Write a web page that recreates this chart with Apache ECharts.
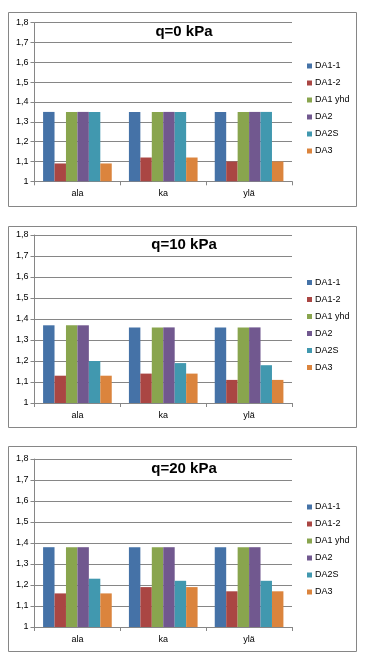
<!DOCTYPE html>
<html>
<head>
<meta charset="utf-8">
<script src="https://cdn.jsdelivr.net/npm/echarts@6/dist/echarts.min.js"></script>
<style>
html,body{margin:0;padding:0;background:#fff;}
#c{width:379px;height:665px;}
</style>
</head>
<body>
<div id="c"></div>
<script>
// ---- data ----
const categories = ['ala', 'ka', 'ylä'];
const seriesNames = ['DA1-1', 'DA1-2', 'DA1 yhd', 'DA2', 'DA2S', 'DA3'];
const chartTitles = ['q=0 kPa', 'q=10 kPa', 'q=20 kPa'];
const yTicks = [1, 1.1, 1.2, 1.3, 1.4, 1.5, 1.6, 1.7, 1.8];

// q = 0 kPa
const q0_DA1_1 = [1.35, 1.35, 1.35];
const q0_DA1_2 = [1.09, 1.12, 1.10];
const q0_DA1_yhd = [1.35, 1.35, 1.35];
const q0_DA2 = [1.35, 1.35, 1.35];
const q0_DA2S = [1.35, 1.35, 1.35];
const q0_DA3 = [1.09, 1.12, 1.10];

// q = 10 kPa
const q10_DA1_1 = [1.37, 1.36, 1.36];
const q10_DA1_2 = [1.13, 1.14, 1.11];
const q10_DA1_yhd = [1.37, 1.36, 1.36];
const q10_DA2 = [1.37, 1.36, 1.36];
const q10_DA2S = [1.20, 1.19, 1.18];
const q10_DA3 = [1.13, 1.14, 1.11];

// q = 20 kPa
const q20_DA1_1 = [1.38, 1.38, 1.38];
const q20_DA1_2 = [1.16, 1.19, 1.17];
const q20_DA1_yhd = [1.38, 1.38, 1.38];
const q20_DA2 = [1.38, 1.38, 1.38];
const q20_DA2S = [1.23, 1.22, 1.22];
const q20_DA3 = [1.16, 1.19, 1.17];

const chartData = [
  [q0_DA1_1, q0_DA1_2, q0_DA1_yhd, q0_DA2, q0_DA2S, q0_DA3],
  [q10_DA1_1, q10_DA1_2, q10_DA1_yhd, q10_DA2, q10_DA2S, q10_DA3],
  [q20_DA1_1, q20_DA1_2, q20_DA1_yhd, q20_DA2, q20_DA2S, q20_DA3]
];

// ---- layout / style ----
const colors = ['#4572A7', '#AA4643', '#89A54E', '#71588F', '#4198AF', '#DB843D'];
const frames = [
  {x: 8, y: 12, w: 348, h: 194},
  {x: 8, y: 226, w: 348, h: 201},
  {x: 8, y: 446, w: 348, h: 205}
];
const grids = [
  {left: 34.5, top: 22.7, width: 257.5, height: 158.6},
  {left: 34.5, top: 235, width: 257.5, height: 168},
  {left: 34.5, top: 459, width: 257.5, height: 168}
];
const titleTops = [19, 232, 456];
const legendTops = [55.5, 272, 496.5];

const gridColor = '#868686';
const font = '"Liberation Sans", Arial, sans-serif';

const option = {
  animation: false,
  color: colors,
  title: chartTitles.map((t, i) => ({
    text: t,
    left: 179,
    top: titleTops[i],
    textAlign: 'center',
    textStyle: {fontFamily: font, fontWeight: 'bold', fontSize: 15, color: '#000'}
  })),
  legend: chartTitles.map((t, i) => ({
    data: seriesNames,
    orient: 'vertical',
    left: 302,
    top: legendTops[i],
    itemWidth: 5,
    itemHeight: 5,
    itemGap: 6,
    icon: 'rect',
    selectedMode: false,
    textStyle: {fontFamily: font, fontSize: 9, color: '#000', lineHeight: 11, padding: [0, 0, 0, -2]}
  })),
  grid: grids.map(g => Object.assign({containLabel: false}, g)),
  xAxis: grids.map((g, i) => ({
    type: 'category',
    gridIndex: i,
    data: categories,
    axisLine: {lineStyle: {color: gridColor, width: 1}},
    axisTick: {show: true, length: 4, lineStyle: {color: gridColor}},
    axisLabel: {fontFamily: font, fontSize: 9, color: '#000', margin: 8}
  })),
  yAxis: grids.map((g, i) => ({
    type: 'value',
    gridIndex: i,
    min: 1,
    max: 1.8,
    interval: 0.1,
    axisLine: {show: true, lineStyle: {color: gridColor, width: 1}},
    axisTick: {show: true, length: 4, lineStyle: {color: gridColor}},
    splitLine: {show: true, lineStyle: {color: gridColor, width: 1}},
    axisLabel: {
      fontFamily: font, fontSize: 9, color: '#000', margin: 6,
      formatter: v => {
        const r = Math.round(v * 10) / 10;
        const t = yTicks.find(x => Math.abs(x - r) < 1e-9);
        return t === 1 ? '1' : String(t).replace('.', ',');
      }
    }
  })),
  graphic: frames.map(f => ({
    type: 'rect',
    shape: {x: f.x + 0.5, y: f.y + 0.5, width: f.w, height: f.h},
    style: {fill: 'none', stroke: gridColor, lineWidth: 1},
    silent: true
  })),
  series: []
};

chartData.forEach((rows, ci) => {
  rows.forEach((vals, si) => {
    option.series.push({
      type: 'bar',
      name: seriesNames[si],
      xAxisIndex: ci,
      yAxisIndex: ci,
      data: vals,
      barGap: '0%',
      barCategoryGap: '20%',
      itemStyle: {color: colors[si]}
    });
  });
});

const chart = echarts.init(document.getElementById('c'), null, {renderer: 'canvas'});
chart.setOption(option);
</script>
</body>
</html>
